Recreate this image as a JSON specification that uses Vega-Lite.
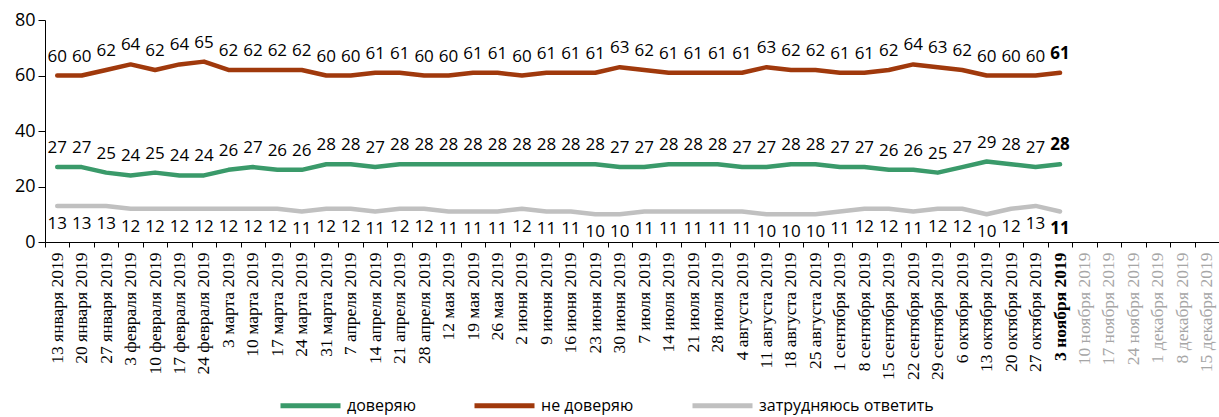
{
  "$schema": "https://vega.github.io/schema/vega-lite/v6.json",
  "width": 1174,
  "height": 222,
  "autosize": {"type": "none"},
  "padding": {"left": 45, "top": 20, "right": 0, "bottom": 175},
  "background": "white",
  "config": {"view": {"stroke": null}, "font": "Open Sans"},
  "datasets": {
    "main": [
      {"d":"13 января 2019","s":"доверяю","v":27},{"d":"20 января 2019","s":"доверяю","v":27},{"d":"27 января 2019","s":"доверяю","v":25},{"d":"3 февраля 2019","s":"доверяю","v":24},{"d":"10 февраля 2019","s":"доверяю","v":25},{"d":"17 февраля 2019","s":"доверяю","v":24},{"d":"24 февраля 2019","s":"доверяю","v":24},{"d":"3 марта 2019","s":"доверяю","v":26},{"d":"10 марта 2019","s":"доверяю","v":27},{"d":"17 марта 2019","s":"доверяю","v":26},{"d":"24 марта 2019","s":"доверяю","v":26},{"d":"31 марта 2019","s":"доверяю","v":28},{"d":"7 апреля 2019","s":"доверяю","v":28},{"d":"14 апреля 2019","s":"доверяю","v":27},{"d":"21 апреля 2019","s":"доверяю","v":28},{"d":"28 апреля 2019","s":"доверяю","v":28},{"d":"12 мая 2019","s":"доверяю","v":28},{"d":"19 мая 2019","s":"доверяю","v":28},{"d":"26 мая 2019","s":"доверяю","v":28},{"d":"2 июня 2019","s":"доверяю","v":28},{"d":"9 июня 2019","s":"доверяю","v":28},{"d":"16 июня 2019","s":"доверяю","v":28},{"d":"23 июня 2019","s":"доверяю","v":28},{"d":"30 июня 2019","s":"доверяю","v":27},{"d":"7 июля 2019","s":"доверяю","v":27},{"d":"14 июля 2019","s":"доверяю","v":28},{"d":"21 июля 2019","s":"доверяю","v":28},{"d":"28 июля 2019","s":"доверяю","v":28},{"d":"4 августа 2019","s":"доверяю","v":27},{"d":"11 августа 2019","s":"доверяю","v":27},{"d":"18 августа 2019","s":"доверяю","v":28},{"d":"25 августа 2019","s":"доверяю","v":28},{"d":"1 сентября 2019","s":"доверяю","v":27},{"d":"8 сентября 2019","s":"доверяю","v":27},{"d":"15 сентября 2019","s":"доверяю","v":26},{"d":"22 сентября 2019","s":"доверяю","v":26},{"d":"29 сентября 2019","s":"доверяю","v":25},{"d":"6 октября 2019","s":"доверяю","v":27},{"d":"13 октября 2019","s":"доверяю","v":29},{"d":"20 октября 2019","s":"доверяю","v":28},{"d":"27 октября 2019","s":"доверяю","v":27},{"d":"3 ноября 2019","s":"доверяю","v":28},
      {"d":"13 января 2019","s":"не доверяю","v":60},{"d":"20 января 2019","s":"не доверяю","v":60},{"d":"27 января 2019","s":"не доверяю","v":62},{"d":"3 февраля 2019","s":"не доверяю","v":64},{"d":"10 февраля 2019","s":"не доверяю","v":62},{"d":"17 февраля 2019","s":"не доверяю","v":64},{"d":"24 февраля 2019","s":"не доверяю","v":65},{"d":"3 марта 2019","s":"не доверяю","v":62},{"d":"10 марта 2019","s":"не доверяю","v":62},{"d":"17 марта 2019","s":"не доверяю","v":62},{"d":"24 марта 2019","s":"не доверяю","v":62},{"d":"31 марта 2019","s":"не доверяю","v":60},{"d":"7 апреля 2019","s":"не доверяю","v":60},{"d":"14 апреля 2019","s":"не доверяю","v":61},{"d":"21 апреля 2019","s":"не доверяю","v":61},{"d":"28 апреля 2019","s":"не доверяю","v":60},{"d":"12 мая 2019","s":"не доверяю","v":60},{"d":"19 мая 2019","s":"не доверяю","v":61},{"d":"26 мая 2019","s":"не доверяю","v":61},{"d":"2 июня 2019","s":"не доверяю","v":60},{"d":"9 июня 2019","s":"не доверяю","v":61},{"d":"16 июня 2019","s":"не доверяю","v":61},{"d":"23 июня 2019","s":"не доверяю","v":61},{"d":"30 июня 2019","s":"не доверяю","v":63},{"d":"7 июля 2019","s":"не доверяю","v":62},{"d":"14 июля 2019","s":"не доверяю","v":61},{"d":"21 июля 2019","s":"не доверяю","v":61},{"d":"28 июля 2019","s":"не доверяю","v":61},{"d":"4 августа 2019","s":"не доверяю","v":61},{"d":"11 августа 2019","s":"не доверяю","v":63},{"d":"18 августа 2019","s":"не доверяю","v":62},{"d":"25 августа 2019","s":"не доверяю","v":62},{"d":"1 сентября 2019","s":"не доверяю","v":61},{"d":"8 сентября 2019","s":"не доверяю","v":61},{"d":"15 сентября 2019","s":"не доверяю","v":62},{"d":"22 сентября 2019","s":"не доверяю","v":64},{"d":"29 сентября 2019","s":"не доверяю","v":63},{"d":"6 октября 2019","s":"не доверяю","v":62},{"d":"13 октября 2019","s":"не доверяю","v":60},{"d":"20 октября 2019","s":"не доверяю","v":60},{"d":"27 октября 2019","s":"не доверяю","v":60},{"d":"3 ноября 2019","s":"не доверяю","v":61},
      {"d":"13 января 2019","s":"затрудняюсь ответить","v":13},{"d":"20 января 2019","s":"затрудняюсь ответить","v":13},{"d":"27 января 2019","s":"затрудняюсь ответить","v":13},{"d":"3 февраля 2019","s":"затрудняюсь ответить","v":12},{"d":"10 февраля 2019","s":"затрудняюсь ответить","v":12},{"d":"17 февраля 2019","s":"затрудняюсь ответить","v":12},{"d":"24 февраля 2019","s":"затрудняюсь ответить","v":12},{"d":"3 марта 2019","s":"затрудняюсь ответить","v":12},{"d":"10 марта 2019","s":"затрудняюсь ответить","v":12},{"d":"17 марта 2019","s":"затрудняюсь ответить","v":12},{"d":"24 марта 2019","s":"затрудняюсь ответить","v":11},{"d":"31 марта 2019","s":"затрудняюсь ответить","v":12},{"d":"7 апреля 2019","s":"затрудняюсь ответить","v":12},{"d":"14 апреля 2019","s":"затрудняюсь ответить","v":11},{"d":"21 апреля 2019","s":"затрудняюсь ответить","v":12},{"d":"28 апреля 2019","s":"затрудняюсь ответить","v":12},{"d":"12 мая 2019","s":"затрудняюсь ответить","v":11},{"d":"19 мая 2019","s":"затрудняюсь ответить","v":11},{"d":"26 мая 2019","s":"затрудняюсь ответить","v":11},{"d":"2 июня 2019","s":"затрудняюсь ответить","v":12},{"d":"9 июня 2019","s":"затрудняюсь ответить","v":11},{"d":"16 июня 2019","s":"затрудняюсь ответить","v":11},{"d":"23 июня 2019","s":"затрудняюсь ответить","v":10},{"d":"30 июня 2019","s":"затрудняюсь ответить","v":10},{"d":"7 июля 2019","s":"затрудняюсь ответить","v":11},{"d":"14 июля 2019","s":"затрудняюсь ответить","v":11},{"d":"21 июля 2019","s":"затрудняюсь ответить","v":11},{"d":"28 июля 2019","s":"затрудняюсь ответить","v":11},{"d":"4 августа 2019","s":"затрудняюсь ответить","v":11},{"d":"11 августа 2019","s":"затрудняюсь ответить","v":10},{"d":"18 августа 2019","s":"затрудняюсь ответить","v":10},{"d":"25 августа 2019","s":"затрудняюсь ответить","v":10},{"d":"1 сентября 2019","s":"затрудняюсь ответить","v":11},{"d":"8 сентября 2019","s":"затрудняюсь ответить","v":12},{"d":"15 сентября 2019","s":"затрудняюсь ответить","v":12},{"d":"22 сентября 2019","s":"затрудняюсь ответить","v":11},{"d":"29 сентября 2019","s":"затрудняюсь ответить","v":12},{"d":"6 октября 2019","s":"затрудняюсь ответить","v":12},{"d":"13 октября 2019","s":"затрудняюсь ответить","v":10},{"d":"20 октября 2019","s":"затрудняюсь ответить","v":12},{"d":"27 октября 2019","s":"затрудняюсь ответить","v":13},{"d":"3 ноября 2019","s":"затрудняюсь ответить","v":11}
    ]
  },
  "data": {"name": "main"},
  "encoding": {
    "x": {
      "field": "d", "type": "nominal", "sort": null, "bandPosition": 0.5,
      "scale": {
        "type": "band", "paddingInner": 0, "paddingOuter": 0,
        "domain": ["13 января 2019","20 января 2019","27 января 2019","3 февраля 2019","10 февраля 2019","17 февраля 2019","24 февраля 2019","3 марта 2019","10 марта 2019","17 марта 2019","24 марта 2019","31 марта 2019","7 апреля 2019","14 апреля 2019","21 апреля 2019","28 апреля 2019","12 мая 2019","19 мая 2019","26 мая 2019","2 июня 2019","9 июня 2019","16 июня 2019","23 июня 2019","30 июня 2019","7 июля 2019","14 июля 2019","21 июля 2019","28 июля 2019","4 августа 2019","11 августа 2019","18 августа 2019","25 августа 2019","1 сентября 2019","8 сентября 2019","15 сентября 2019","22 сентября 2019","29 сентября 2019","6 октября 2019","13 октября 2019","20 октября 2019","27 октября 2019","3 ноября 2019","10 ноября 2019","17 ноября 2019","24 ноября 2019","1 декабря 2019","8 декабря 2019","15 декабря 2019"]
      },
      "axis": {
        "title": null, "labelAngle": -90, "tickBand": "extent", "tickSize": 5,
        "tickColor": "#000", "domainColor": "#000", "grid": false,
        "labelFont": "Liberation Sans Narrow", "labelFontSize": 17.5, "labelPadding": 5,
        "labelColor": {"condition": {"test": "indexof(['10 ноября 2019','17 ноября 2019','24 ноября 2019','1 декабря 2019','8 декабря 2019','15 декабря 2019'], datum.value) >= 0", "value": "#a6a6a6"}, "value": "#000"},
        "labelFontWeight": {"condition": {"test": "datum.value === '3 ноября 2019'", "value": "bold"}, "value": "normal"}
      }
    },
    "y": {
      "field": "v", "type": "quantitative",
      "scale": {"domain": [0, 80], "nice": false},
      "axis": {"title": null, "values": [0, 20, 40, 60, 80], "grid": false, "tickSize": 7, "tickColor": "#000", "domainColor": "#000", "labelFontSize": 18, "labelColor": "#000", "labelPadding": 3, "labelFont": "Open Sans"}
    }
  },
  "layer": [
    {
      "mark": {"type": "line", "strokeWidth": 4.5, "strokeCap": "round", "strokeJoin": "round"},
      "encoding": {
        "color": {
          "field": "s", "type": "nominal",
          "scale": {"domain": ["доверяю", "не доверяю", "затрудняюсь ответить"], "range": ["#3a9a6a", "#a0390c", "#c0c0c0"]},
          "legend": {
            "title": null, "orient": "none", "direction": "horizontal", "legendX": 233, "legendY": 353,
            "symbolType": "stroke", "symbolSize": 3600, "symbolStrokeWidth": 5,
            "labelFontSize": 16, "labelColor": "#000", "labelFont": "Open Sans", "labelOffset": 4, "labelLimit": 400, "columnPadding": 48
          }
        }
      }
    },
    {
      "transform": [{"filter": "datum.s !== 'затрудняюсь ответить' && datum.d !== '3 ноября 2019'"}],
      "mark": {"type": "text", "dy": -19, "fontSize": 17, "color": "#000", "baseline": "middle"},
      "encoding": {"text": {"field": "v", "type": "quantitative"}}
    },
    {
      "transform": [{"filter": "datum.s !== 'затрудняюсь ответить' && datum.d === '3 ноября 2019'"}],
      "mark": {"type": "text", "dy": -19, "fontSize": 17, "fontWeight": "bold", "color": "#000", "baseline": "middle"},
      "encoding": {"text": {"field": "v", "type": "quantitative"}}
    },
    {
      "transform": [{"filter": "datum.s === 'затрудняюсь ответить' && datum.d !== '3 ноября 2019'"}],
      "mark": {"type": "text", "dy": 18, "fontSize": 17, "color": "#000", "baseline": "middle"},
      "encoding": {"text": {"field": "v", "type": "quantitative"}}
    },
    {
      "transform": [{"filter": "datum.s === 'затрудняюсь ответить' && datum.d === '3 ноября 2019'"}],
      "mark": {"type": "text", "dy": 18, "fontSize": 17, "fontWeight": "bold", "color": "#000", "baseline": "middle"},
      "encoding": {"text": {"field": "v", "type": "quantitative"}}
    }
  ]
}
